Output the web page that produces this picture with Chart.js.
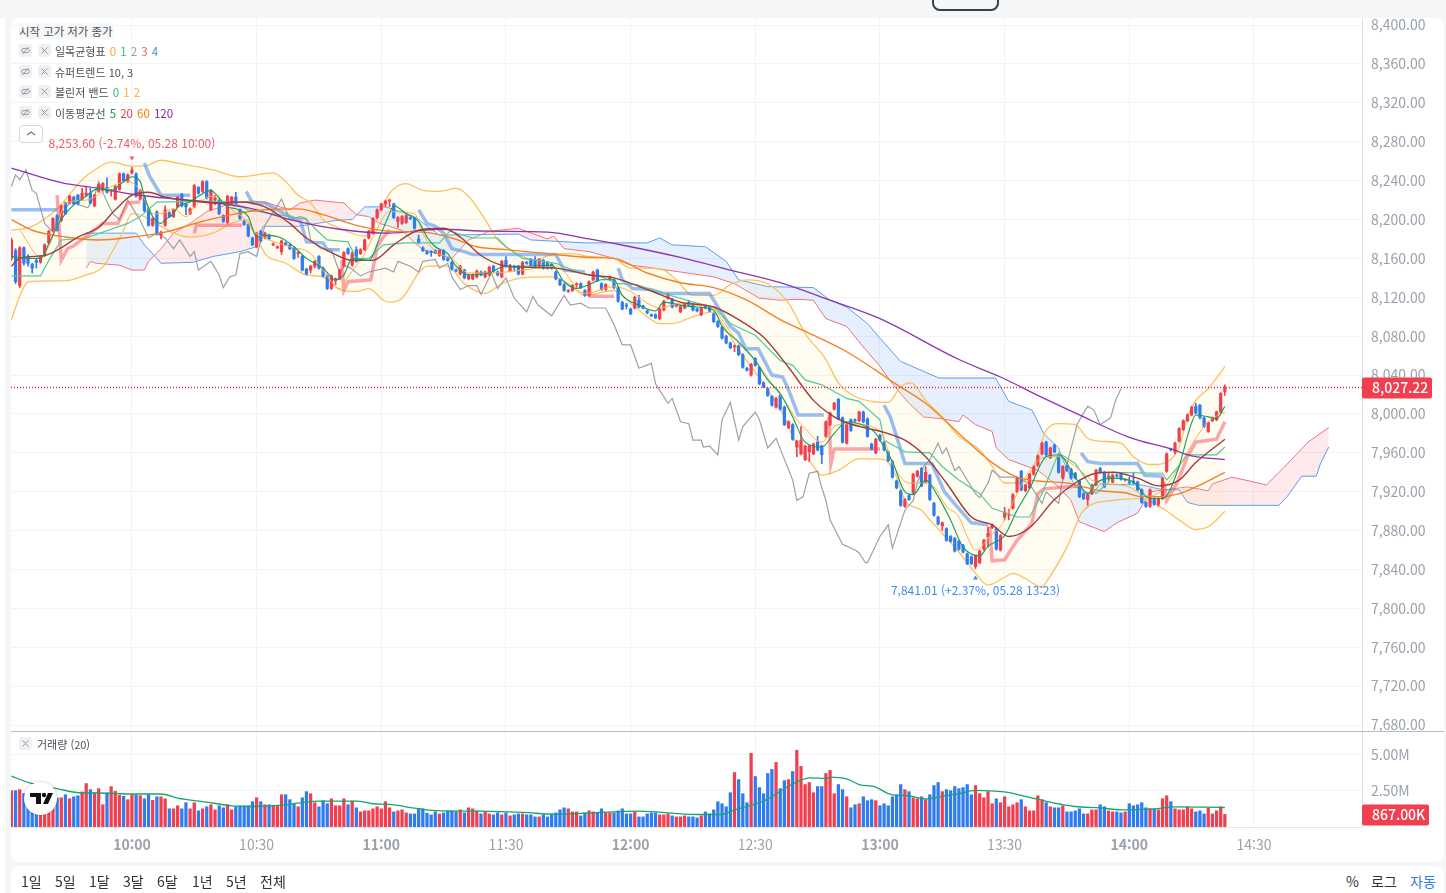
<!DOCTYPE html>
<html lang="ko">
<head>
<meta charset="utf-8">
<title>차트</title>
<script src="https://cdn.jsdelivr.net/npm/chart.js@4/dist/chart.umd.min.js"></script>
<style>
  html, body { margin: 0; padding: 0; background: #f5f6f8; }
  body { position: relative; width: 1446px; height: 893px; overflow: hidden; font-family: "Noto Sans CJK KR", "Noto Sans", sans-serif; color: #3a3f47; }
  .leftstrip { position: absolute; left: 0; top: 18px; width: 5px; height: 875px; background: #fff; }
  .card { position: absolute; left: 11px; top: 18px; width: 1433px; height: 844px; background: #fff; border-radius: 8px; }
  .bottom { position: absolute; left: 11px; top: 866px; width: 1433px; height: 27px; background: #fff; border-radius: 8px 8px 0 0; }
  .topbtn { position: absolute; left: 932px; top: -8px; width: 63px; height: 15px; border: 2px solid #3a3f47; border-radius: 8px; background: #f5f6f8; }
  canvas { position: absolute; }
  .row { position: absolute; left: 19px; font-size: 11px; line-height: 16px; white-space: nowrap; color: #4a4f57; }
  .row .name { position: absolute; left: 36px; top: 0; }
  .row b { font-weight: 400; margin-left: 1px; font-size: 11.5px; }
  .chip { position: absolute; top: 1px; width: 13px; height: 13px; background: #eef0f3; border-radius: 3px; }
  .chip svg { position: absolute; left: 2px; top: 2px; }
  .up { position: absolute; left: 19px; top: 125px; width: 22px; height: 16px; border: 1px solid #d3d6db; border-radius: 4px; background: #fff; }
  .up svg { position: absolute; left: 6px; top: 4px; }
  .logo { position: absolute; left: 24px; top: 782px; width: 33px; height: 33px; border-radius: 50%; background: #fff; box-shadow: 0 0 3px rgba(0,0,0,.25); }
  .range span { position: absolute; top: 871px; font-size: 14px; line-height: 20px; color: #2f343b; white-space: nowrap; }
</style>
</head>
<body>
<svg width="0" height="0" style="position:absolute">
  <symbol id="eye" viewBox="0 0 9 9"><ellipse cx="4.5" cy="4.5" rx="4" ry="2.2" fill="none" stroke="#9298a1" stroke-width="1"/><path d="M1.5 8 L7.5 1" stroke="#9298a1" stroke-width="1"/></symbol>
  <symbol id="cross" viewBox="0 0 9 9"><path d="M1.5 1.5 L7.5 7.5 M7.5 1.5 L1.5 7.5" stroke="#9298a1" stroke-width="1"/></symbol>
</svg>
<div class="topbtn"></div>
<div class="leftstrip"></div>
<div class="card"></div>
<div class="bottom"></div>
<canvas id="priceChart" width="1433" height="713" style="left:11px;top:18px"></canvas>
<canvas id="volumeChart" width="1433" height="130" style="left:11px;top:732px"></canvas>
<div style="position:absolute;left:11px;top:731px;width:1433px;height:1px;background:#b9bcc2"></div>

<div class="row" style="top:23px;font-size:11.4px;background:#f6f7f8;padding:0 2px 0 0">시작 고가 저가 종가</div>
<div class="row" style="top:43px"><i class="chip" style="left:0"><svg width="9" height="9"><use href="#eye"/></svg></i><i class="chip" style="left:19px"><svg width="9" height="9"><use href="#cross"/></svg></i><span class="name">일목균형표 <b style="color:#f9a825">0</b> <b style="color:#2ec27e">1</b> <b style="color:#9aa0a8">2</b> <b style="color:#f0566a">3</b> <b style="color:#4a90e2">4</b></span></div>
<div class="row" style="top:64px"><i class="chip" style="left:0"><svg width="9" height="9"><use href="#eye"/></svg></i><i class="chip" style="left:19px"><svg width="9" height="9"><use href="#cross"/></svg></i><span class="name">슈퍼트렌드 10, 3</span></div>
<div class="row" style="top:84px"><i class="chip" style="left:0"><svg width="9" height="9"><use href="#eye"/></svg></i><i class="chip" style="left:19px"><svg width="9" height="9"><use href="#cross"/></svg></i><span class="name">볼린저 밴드 <b style="color:#2ec27e">0</b> <b style="color:#f9b233">1</b> <b style="color:#f9b233">2</b></span></div>
<div class="row" style="top:105px"><i class="chip" style="left:0"><svg width="9" height="9"><use href="#eye"/></svg></i><i class="chip" style="left:19px"><svg width="9" height="9"><use href="#cross"/></svg></i><span class="name">이동평균선 <b style="color:#0a9a5a">5</b> <b style="color:#e5394f">20</b> <b style="color:#f57c00">60</b> <b style="color:#8e24aa">120</b></span></div>
<div class="up"><svg width="10" height="7"><path d="M1 5 L5 2 L9 5" fill="none" stroke="#777" stroke-width="1.2"/></svg></div>
<div class="row" style="top:736px"><i class="chip" style="left:0"><svg width="9" height="9"><use href="#cross"/></svg></i><span class="name" style="left:18px">거래량 (20)</span></div>
<div class="logo"><svg width="33" height="33" viewBox="0 0 33 33"><path d="M6 11h11v11h-5v-7H6z" fill="#111"/><circle cx="20" cy="13" r="2.2" fill="#111"/><path d="M24 11h5l-5 11h-5z" fill="#111"/></svg></div>
<div class="range">
  <span style="left:21px">1일</span><span style="left:55px">5일</span><span style="left:89px">1달</span><span style="left:123px">3달</span><span style="left:157px">6달</span><span style="left:192px">1년</span><span style="left:226px">5년</span><span style="left:260px">전체</span>
  <span style="left:1346px">%</span><span style="left:1371px">로그</span><span style="left:1410px;color:#2b7de9">자동</span>
</div>

<script>
// minutes from 10:00 for the first candle (09:31)
const firstMinute = -29;

const opens = [
  8160,8168,8132,8171,8162,8154,8158,8156,8163,8176,
  8189,8204,8199,8217,8217,8223,8225,8221,8225,8227,
  8214,8229,8230,8233,8229,8221,8231,8247,8239,8248,
  8247,8221,8223,8211,8194,8208,8184,8194,8207,8203,
  8213,8226,8216,8206,8213,8233,8229,8239,8210,8220,
  8220,8204,8197,8216,8223,8210,8198,8195,8181,8172,
  8188,8181,8184,8174,8171,8167,8176,8174,8171,8165,
  8162,8149,8148,8152,8162,8150,8142,8129,8137,8139,
  8152,8170,8153,8169,8165,8169,8181,8186,8202,8210,
  8216,8219,8216,8198,8196,8197,8202,8201,8180,8171,
  8167,8167,8168,8163,8168,8160,8156,8148,8144,8148,
  8139,8139,8141,8146,8141,8143,8152,8146,8141,8158,
  8147,8152,8152,8144,8156,8159,8158,8152,8158,8156,
  8154,8146,8138,8133,8126,8127,8133,8134,8127,8122,
  8138,8148,8134,8128,8139,8138,8130,8115,8112,8108,
  8109,8117,8111,8106,8102,8102,8098,8107,8119,8118,
  8111,8105,8109,8115,8113,8108,8102,8111,8110,8103,
  8095,8089,8080,8073,8069,8070,8061,8047,8040,8057,
  8048,8032,8026,8018,8007,8019,8007,7986,7989,7966,
  7959,7953,7961,7959,7971,7967,7977,7989,8005,8015,
  7996,7970,7994,7994,7993,8002,7995,7969,7960,7978,
  7971,7961,7951,7931,7921,7905,7916,7919,7936,7944,
  7930,7937,7908,7894,7885,7882,7874,7872,7869,7865,
  7856,7853,7843,7847,7861,7874,7883,7882,7860,7894,
  7896,7903,7920,7941,7921,7924,7938,7947,7959,7971,
  7955,7968,7956,7934,7946,7943,7939,7931,7918,7912,
  7918,7927,7944,7940,7935,7930,7937,7938,7932,7930,
  7931,7930,7922,7909,7905,7913,7907,7913,7941,7964,
  7961,7972,7984,7993,7999,8008,8009,7996,7982,7993,
  7994,8002,8023
];
const closes = [
  8179,8136,8171,8155,8155,8150,8156,8162,8174,8188,
  8201,8189,8214,8206,8224,8216,8216,8227,8227,8217,
  8225,8236,8237,8228,8230,8234,8247,8240,8246,8251,
  8224,8230,8209,8194,8201,8185,8187,8210,8203,8210,
  8223,8214,8213,8211,8235,8227,8239,8222,8230,8222,
  8206,8198,8224,8223,8216,8201,8195,8183,8174,8186,
  8178,8186,8180,8175,8172,8178,8174,8170,8160,8166,
  8148,8144,8152,8157,8150,8142,8129,8142,8139,8148,
  8166,8165,8165,8157,8169,8179,8188,8201,8210,8216,
  8219,8220,8202,8202,8203,8204,8201,8191,8176,8168,
  8165,8166,8166,8168,8159,8158,8149,8147,8152,8140,
  8143,8143,8147,8143,8146,8151,8147,8143,8157,8152,
  8153,8151,8144,8156,8155,8153,8152,8159,8150,8150,
  8150,8139,8133,8127,8127,8132,8134,8130,8122,8136,
  8146,8137,8128,8133,8140,8130,8116,8108,8111,8103,
  8120,8110,8109,8104,8101,8099,8108,8116,8123,8110,
  8111,8111,8113,8112,8107,8106,8109,8109,8106,8095,
  8090,8078,8073,8068,8070,8061,8048,8045,8051,8050,
  8031,8028,8019,8009,8016,8005,7989,7992,7974,7972,
  7973,7967,7967,7969,7963,7958,7992,8001,8011,7995,
  7971,7989,7983,7993,8002,7992,7977,7964,7974,7973,
  7963,7952,7935,7924,7906,7912,7912,7938,7941,7926,
  7940,7912,7896,7887,7888,7870,7869,7859,7861,7858,
  7846,7846,7854,7859,7870,7877,7886,7861,7875,7899,
  7897,7917,7934,7922,7927,7938,7946,7957,7970,7958,
  7965,7961,7940,7946,7942,7934,7934,7915,7913,7917,
  7927,7942,7940,7925,7936,7937,7936,7933,7932,7929,
  7929,7922,7909,7905,7922,7907,7913,7934,7959,7963,
  7970,7985,7993,7999,8007,8001,7996,7987,7991,7996,
  8002,8021,8027.22
];
const highs = [
  8181,8170,8172,8172,8164,8155,8159,8163,8175,8189,
  8202,8205,8215,8218,8225,8224,8226,8232,8233,8232,
  8226,8237,8238,8243,8231,8235,8248,8248,8247,8253.6,
  8248,8231,8224,8212,8202,8209,8188,8214,8208,8211,
  8224,8227,8217,8212,8236,8234,8240,8240,8231,8225,
  8221,8205,8225,8224,8228,8211,8199,8196,8182,8187,
  8189,8187,8185,8176,8173,8179,8177,8175,8172,8167,
  8163,8150,8153,8158,8163,8151,8143,8143,8140,8149,
  8167,8171,8167,8172,8170,8180,8189,8202,8211,8217,
  8220,8221,8217,8203,8204,8205,8203,8202,8184,8172,
  8168,8168,8169,8169,8169,8161,8157,8149,8153,8149,
  8144,8144,8148,8147,8147,8152,8153,8147,8158,8162,
  8154,8153,8153,8157,8157,8160,8162,8160,8159,8157,
  8155,8147,8139,8134,8128,8133,8135,8135,8128,8137,
  8147,8149,8135,8134,8142,8139,8131,8116,8114,8109,
  8121,8122,8112,8107,8103,8103,8109,8117,8124,8119,
  8112,8112,8114,8117,8114,8109,8110,8112,8111,8104,
  8096,8090,8081,8074,8071,8071,8062,8048,8052,8058,
  8049,8033,8027,8019,8017,8020,8008,7993,7990,7973,
  7987,7968,7968,7970,7977,7968,7993,8002,8012,8016,
  7997,7990,7995,7995,8003,8003,7996,7970,7975,7979,
  7972,7962,7952,7932,7922,7913,7917,7939,7942,7945,
  7946,7938,7909,7895,7889,7883,7875,7873,7870,7866,
  7857,7854,7855,7860,7871,7884,7887,7883,7876,7904,
  7902,7918,7935,7942,7928,7939,7947,7958,7971,7972,
  7966,7969,7957,7947,7947,7944,7940,7932,7919,7918,
  7928,7943,7945,7941,7939,7938,7938,7939,7933,7935,
  7940,7931,7923,7910,7923,7914,7914,7935,7960,7965,
  7971,7986,7994,8000,8008,8011,8010,7997,7992,7997,
  8003,8022,8030
];
const lows = [
  8158,8134,8130,8153,8152,8145,8150,8155,8162,8175,
  8188,8188,8198,8205,8216,8215,8215,8220,8224,8216,
  8213,8228,8229,8227,8224,8220,8230,8239,8238,8247,
  8223,8220,8208,8193,8193,8184,8180,8193,8202,8202,
  8212,8213,8205,8205,8212,8226,8228,8221,8209,8215,
  8205,8197,8196,8215,8215,8200,8194,8182,8173,8171,
  8177,8180,8179,8173,8170,8164,8173,8169,8159,8161,
  8147,8143,8145,8150,8149,8141,8128,8128,8133,8138,
  8151,8164,8152,8156,8164,8168,8180,8185,8201,8209,
  8213,8213,8201,8192,8195,8196,8200,8190,8175,8167,
  8164,8162,8165,8162,8158,8157,8148,8146,8143,8139,
  8138,8138,8140,8142,8140,8142,8146,8142,8140,8151,
  8146,8147,8143,8143,8154,8152,8151,8151,8149,8149,
  8149,8138,8132,8126,8125,8126,8130,8129,8121,8121,
  8137,8136,8127,8127,8138,8129,8115,8107,8108,8102,
  8108,8109,8108,8103,8100,8098,8097,8106,8118,8109,
  8110,8104,8108,8111,8106,8105,8101,8108,8105,8094,
  8089,8077,8072,8067,8064,8060,8047,8044,8039,8049,
  8030,8027,8018,8008,8006,8004,7988,7985,7973,7956,
  7958,7952,7951,7958,7962,7949,7976,7988,8004,7994,
  7970,7969,7982,7992,7992,7991,7976,7963,7959,7972,
  7962,7951,7934,7923,7905,7904,7911,7918,7935,7925,
  7929,7911,7895,7886,7880,7869,7868,7858,7860,7857,
  7845,7845,7841.01,7846,7860,7863,7882,7860,7859,7891,
  7891,7902,7919,7921,7920,7923,7937,7946,7958,7957,
  7954,7960,7939,7933,7941,7933,7933,7914,7912,7906,
  7917,7926,7939,7924,7931,7929,7935,7932,7931,7928,
  7928,7921,7908,7904,7904,7906,7905,7912,7940,7962,
  7959,7971,7983,7992,7998,8000,7995,7986,7981,7992,
  7993,8001,8019
];
// volume in thousands
const volumes = [
  2500,2500,2570,2300,2200,2100,2000,2100,2200,2100,
  2300,1990,2010,2220,1940,2080,2150,2410,2990,2570,
  2340,2640,1530,2340,2780,2450,2180,2110,1880,2220,
  2220,2150,1940,2220,1830,2080,2080,1940,1250,1250,
  1460,1250,1670,1250,1670,1110,1250,1390,1530,1180,
  1460,1320,1530,1180,1390,1460,1460,1460,1740,2010,
  1740,1530,1530,1460,1460,2220,2220,1880,1600,1390,
  2010,2430,2290,1670,1390,1810,1600,1940,1460,1460,
  1940,1530,1780,1320,1040,1110,1110,1250,1390,1250,
  1740,1320,1040,1110,1180,970,900,900,1250,1250,
  950,835,1040,900,970,1110,1110,1040,1180,970,
  1320,1250,1110,900,1040,900,835,970,835,970,
  765,835,900,900,835,835,695,695,835,695,
  900,970,1180,1320,1250,1040,1040,765,970,1110,
  1040,970,1250,970,970,970,1110,1250,900,900,
  1040,695,695,900,970,970,835,835,900,765,
  695,695,765,695,695,625,765,1040,900,1180,
  1740,1600,1390,2360,3750,3260,2290,1670,5070,3470,
  2710,2290,3680,3960,4440,2640,3190,3260,3820,5280,
  4170,2920,3060,2360,2780,2780,3680,3890,2290,2920,
  2570,2080,1320,1530,1600,2080,1810,1880,1810,1460,
  1600,1460,2080,2220,2920,2570,2430,2010,1940,2080,
  1880,2220,2850,3060,2430,2570,2500,2780,2640,2710,
  2920,2220,2850,2290,2010,2430,1600,1940,1670,2080,
  1390,1530,1670,1880,1390,1110,1110,2150,1880,1670,
  1390,1320,1320,1460,1040,1040,1110,1250,900,900,
  1180,1180,1530,1390,1110,1040,1040,970,1040,1600,
  1460,1530,1670,1320,1250,1250,1180,1940,2150,1740,
  1250,1180,1180,1390,1250,1040,1110,900,1320,900,
  1110,1390,867
];

// indicator lines: [minute from 10:00, value]
const ma120 = [[-29,8253],[-17,8238],[-8,8232],[0,8226],[28,8212],[38,8200],[50,8190],[62,8186],[74,8190],[86,8188],[100,8187],[110,8180],[120,8172],[132,8161],[144,8148],[156,8135],[168,8117],[180,8098],[199,8056],[209,8038],[219,8017],[228,7999],[240,7976],[250,7964],[255,7957],[263,7953]];
const ma60 = [[-29,8200],[-24,8189],[-16,8182],[-8,8179],[0,8182],[8,8187],[16,8197],[24,8205],[32,8210],[40,8211],[46,8205],[54,8194],[62,8188],[70,8187],[77,8181],[83,8172],[90,8169],[102,8164],[110,8161],[116,8160],[124,8145],[132,8135],[140,8130],[148,8117],[156,8097],[164,8081],[172,8064],[180,8042],[183,8033],[191,8011],[199,7980],[207,7950],[213,7935],[218,7931],[225,7929],[233,7921],[239,7919],[243,7915],[248,7915],[252,7918],[256,7925],[263,7940]];
const ma20 = [[-29,8152],[-27,8160],[-21,8163],[-17,8171],[-13,8182],[-8,8192],[-4,8210],[0,8225],[4,8228],[8,8223],[13,8220],[20,8217],[26,8218],[32,8213],[38,8196],[42,8181],[48,8166],[53,8158],[58,8158],[63,8174],[69,8189],[75,8191],[79,8182],[84,8163],[89,8153],[94,8151],[102,8150],[110,8143],[116,8140],[124,8128],[132,8115],[140,8110],[146,8097],[152,8079],[158,8048],[164,8014],[169,7997],[172,7991],[181,7981],[186,7973],[191,7956],[196,7929],[202,7894],[207,7886],[211,7874],[216,7883],[222,7912],[227,7929],[232,7939],[236,7940],[242,7934],[247,7926],[252,7932],[256,7950],[263,7974]];
const ma5 = [[-29,8162],[-25,8160],[-22,8160],[-20,8175],[-18,8193],[-16,8206],[-14,8215],[-11,8224],[-8,8232],[-5,8230],[-2,8239],[0,8244],[2,8239],[3,8224],[5,8203],[7,8196],[8,8200],[10,8206],[11,8213],[14,8218],[16,8224],[19,8230],[20,8227],[23,8213],[25,8211],[28,8203],[30,8182],[32,8184],[36,8181],[39,8172],[42,8160],[46,8150],[49,8138],[51,8143],[53,8160],[57,8158],[60,8186],[62,8206],[63,8214],[66,8206],[69,8198],[71,8182],[73,8172],[76,8165],[78,8152],[81,8143],[86,8145],[89,8151],[94,8152],[101,8153],[104,8136],[107,8129],[110,8133],[113,8138],[116,8138],[118,8122],[122,8112],[126,8106],[128,8115],[132,8112],[136,8110],[140,8107],[142,8090],[146,8074],[150,8055],[153,8035],[156,8021],[159,7997],[162,7971],[166,7966],[169,7980],[172,7992],[175,7990],[179,7980],[180,7973],[183,7951],[186,7920],[188,7917],[191,7932],[194,7915],[197,7891],[200,7863],[204,7854],[206,7864],[210,7875],[213,7901],[216,7923],[220,7956],[223,7958],[227,7935],[230,7918],[232,7929],[236,7934],[241,7930],[245,7913],[248,7913],[252,7946],[254,7977],[256,7999],[259,7997],[261,7995],[263,8008]];
const ichiConversion = [[-27,8189],[-22,8162],[-18,8193],[-16,8217],[-11,8220],[-5,8234],[-1,8239],[2,8230],[5,8206],[7,8206],[10,8211],[13,8203],[15,8213],[19.5,8224],[24,8210],[27.5,8199],[29,8189],[32,8181],[38,8172],[43,8165],[46,8148],[50,8129],[52,8141],[56,8165],[58,8182],[62,8208],[68,8206],[70,8186],[73,8167],[77,8160],[81,8145],[86,8145],[94,8148],[102,8152],[109,8124],[116,8131],[120,8126],[124,8114],[127,8109],[132,8114],[136,8112],[140,8109],[142,8097],[146,8073],[150,8055],[154,8031],[157,8014],[160,7994],[162,7985],[166,7971],[169,7987],[172,7990],[180,7983],[183,7949],[187,7929],[190,7929],[193,7925],[196,7905],[199,7894],[201,7874],[203,7860],[207,7877],[209,7884],[213,7918],[216,7942],[220,7956],[223,7956],[227,7946],[231,7932],[233,7929],[240,7925],[244,7915],[248,7922],[252,7946],[256,7975],[259,7992],[263,8002]];
const ichiBase = [[-29,8142],[-22,8142],[-20,8158],[-17,8179],[-11,8181],[-1,8196],[2,8203],[6,8218],[16,8219],[24,8218],[28,8210],[38,8203],[42,8200],[44.5,8189],[47,8179],[52,8177],[54,8160],[57,8160],[60.5,8174],[66,8176],[74,8176],[76.5,8188],[82,8181],[88,8181],[90,8172],[94,8160],[102,8155],[108,8145],[113,8141],[117,8134],[121.5,8133],[126.3,8126],[136,8114],[140,8110],[144,8093],[150,8081],[156,8055],[159,8050],[162,8035],[166,8030],[172,8016],[175,8013],[180,7994],[181,7973],[186,7961],[192,7960],[195,7946],[199,7932],[204,7918],[207,7903],[213,7894],[216,7894],[219,7918],[223,7960],[227,7949],[232,7918],[235,7930],[236,7940],[248,7939],[249,7932],[252,7947],[254,7958],[261,7958],[263,7966]];
const ichiLagging = [[-29,8234],[-28,8246],[-27,8241],[-25.5,8251],[-24,8230],[-23,8227],[-21,8196],[-19,8187],[-18,8199],[-14.5,8220],[-12.6,8215],[-10.6,8212],[-9,8224],[-8,8239],[-6.6,8224],[-4.6,8206],[-3,8200],[-1,8220],[0,8213],[2,8199],[4,8181],[6,8186],[8,8181],[10,8170],[11.5,8179],[14,8162],[15,8167],[16,8148],[19,8157],[21,8143],[22,8130],[23.5,8141],[25,8143],[26,8165],[28,8167],[30,8162],[32,8194],[36,8221],[38,8200],[40.5,8203],[42,8201],[43,8179],[45.5,8170],[48,8169],[50,8145],[51,8153],[52.6,8150],[55,8142],[57,8146],[61,8150],[63,8146],[64,8157],[67,8152],[69,8146],[70,8157],[73,8159],[74,8150],[76,8155],[77,8141],[79,8128],[81,8132],[83,8132],[84,8123],[86.5,8145],[88,8129],[90,8140],[92,8119],[95,8105],[96.5,8121],[97.7,8112],[101,8101],[104,8122],[105.5,8112],[108,8114],[110,8109],[114,8109],[116,8092],[118,8071],[120,8071],[122,8047],[125,8052],[126,8031],[129,8011],[130,8016],[132,7992],[134,7990],[135,7973],[137,7973],[137.5,7966],[139,7967],[141,7958],[142,7994],[144,8012],[146,7973],[147,7987],[150,8002],[151,7994],[153,7965],[155,7975],[159,7932],[160,7911],[161.5,7915],[163,7939],[165,7941],[165.8,7927],[167,7911],[168,7891],[171,7866],[174,7860],[175,7857],[176.5,7847],[177,7847],[180,7874],[182,7886],[183,7862],[186,7901],[188,7911],[189,7929],[190.5,7946],[192,7953],[194,7970],[195,7959],[196,7965],[198,7942],[199,7946],[203,7918],[204,7914],[206,7929],[207,7942],[209,7935],[213,7935],[216,7928],[219,7908],[220,7920],[223,7908],[223.6,7925],[227.5,7990],[230,8008],[231.5,8004],[233,7989],[235.5,7996],[236.7,8014],[238,8026]];
const spanA = [[-11,8150],[-10,8157],[-8.6,8155],[-3,8153],[0,8148],[3,8148],[4,8157],[7,8170],[10,8186],[14,8196],[18,8208],[24,8217],[29,8219],[32,8218],[38,8210],[40.5,8217],[44,8220],[51,8217],[54,8205],[57,8203],[59.6,8196],[62,8193],[65,8189],[68,8176],[70,8169],[74,8164],[77,8160],[81,8179],[86,8188],[93,8191],[100,8180],[101.5,8183],[104,8170],[110,8167],[116,8160],[120,8153],[124,8151],[132,8146],[140,8141],[145,8134],[151,8119],[156,8117],[160,8118],[164,8117],[167,8098],[172,8090],[176,8069],[180,8049],[183,8031],[187,8011],[190.5,7997],[195,7995],[199,7992],[200,7999],[203,7989],[207,7982],[208,7965],[211,7953],[218,7942],[223,7925],[226,7911],[228,7889],[234,7879],[237,7888],[242,7898],[245,7920],[254,7925],[259,7921],[260,7928],[264.7,7935],[269,7931],[273,7927],[277,7944],[283,7971],[288,7986]];
const spanB = [[-11,8186],[1,8186],[3,8174],[6,8160],[7,8155],[14.7,8156],[19.5,8162],[26,8167],[30,8172],[31.5,8193],[40,8193],[49,8199],[53,8200],[56,8213],[61,8213],[65.5,8207],[68,8203],[74,8184],[93,8185],[96,8179],[109,8176],[124,8176],[127,8181],[130,8174],[138,8172],[143,8157],[146,8138],[153,8131],[164,8130],[168,8117],[172,8110],[177,8093],[180,8078],[185,8054],[194.2,8037],[207.8,8037],[211,8013],[216.6,8004],[219.4,7980],[223,7965],[224,7953],[227,7925],[231,7917],[233,7928],[243,7927],[248,7922],[252,7922],[254,7909],[256.7,7906],[276,7906],[278,7915],[281.5,7936],[285,7936],[286,7949],[288,7966]];
const bbUpper = [[-29,8189],[-24,8193],[-18,8211],[-12,8241],[-9,8251],[-5,8259],[0,8255],[3,8255],[7,8261],[11,8258],[19.5,8251],[26,8244],[34,8248],[37,8239],[40,8225],[43,8217],[46,8200],[50,8191],[56,8183],[60,8210],[62,8227],[66,8237],[70,8230],[74,8229],[78,8232],[81,8224],[85,8200],[88,8179],[90,8172],[94,8162],[97,8158],[101,8164],[106,8165],[110,8162],[116,8160],[120,8150],[124,8150],[128,8148],[131,8138],[135,8122],[140,8122],[144,8133],[148,8138],[153,8134],[158,8114],[162,8083],[167,8056],[170,8032],[174,8018],[182,8012],[185,8028],[187.5,8032],[191,8014],[195,7997],[199,7977],[204,7963],[207,7946],[210,7929],[214,7929],[217,7946],[220,7983],[223,7990],[227,7989],[230,7975],[233,7972],[238,7970],[241,7956],[245,7948],[248,7949],[252,7966],[254,7997],[256,8014],[259,8026],[261,8037],[263,8049]];
const bbLower = [[-29,8097],[-27,8121],[-25,8136],[-16,8137],[-11,8143],[-7,8151],[-5,8165],[-2,8189],[0,8206],[3,8203],[7,8193],[10,8186],[14,8182],[19.5,8186],[24,8196],[27.5,8200],[30,8182],[32,8165],[37,8155],[42,8143],[46,8141],[50,8128],[54,8126],[57,8129],[60.5,8117],[62,8115],[65,8119],[69,8145],[71,8152],[76,8152],[80,8134],[85,8124],[89,8134],[94,8140],[101,8141],[105,8134],[109,8122],[116,8127],[120,8114],[124,8100],[127,8093],[130,8093],[135,8100],[140,8105],[142,8093],[146,8066],[152,8031],[157,7997],[159,7977],[164,7946],[166,7937],[170,7942],[175,7954],[181,7953],[184,7935],[186,7911],[190,7901],[192,7891],[195,7877],[199,7858],[203,7836],[206,7824],[209.6,7831],[212,7836],[214,7833],[219,7822],[220,7827],[225,7863],[229,7901],[236,7911],[243,7913],[248,7903],[252,7891],[256,7881],[259,7884],[261,7891],[263,7900]];
// null breaks the line where the trend flips
const superDown = [[-29,8210],[-18,8210],[-18,null],[3,8258],[4.3,8244],[7,8225],[14,8225],[14.5,null],[27.5,8229],[29,8217],[32,8217],[35,8210],[38,8203],[40.6,8198],[42,8177],[46,8176],[47,8169],[50,8169],[50.2,null],[69,8210],[71,8196],[73,8193],[75,8186],[77,8170],[80,8167],[82,8164],[102,8164],[104,8148],[109,8146],[109.5,null],[117,8150],[118,8138],[120.5,8129],[124.7,8128],[128,8124],[139,8124],[141,8110],[144,8090],[146,8083],[147.7,8067],[150.7,8067],[154,8040],[156.6,8038],[158,8025],[160.3,7999],[166.5,7999],[167,null],[181,8009],[182.5,7997],[184.5,7970],[186,7949],[192.5,7949],[195.5,7920],[198.5,7905],[202,7888],[206,7886],[206.5,null],[228.4,7960],[230,7951],[233,7949],[242,7949],[243.7,7937],[248,7936]];
const superUp = [[-18,8225],[-17,8158],[-15.5,8170],[-14,8173],[-10,8186],[-7,8196],[-3.4,8196],[-1,8217],[2,8218],[2.5,null],[15,8186],[15.5,8194],[26.5,8194],[27,null],[50.5,8158],[51,8127],[52,8136],[57.5,8138],[59,8172],[60.5,8182],[62,8189],[62.5,null],[110,8136],[110.3,8121],[116,8121],[116.2,null],[167.7,7997],[168.2,7949],[169,7964],[180,7964],[180.1,null],[206.4,7884],[207,7849],[210,7850],[213,7870],[216.5,7887],[218,7918],[219.4,7923],[225,7925],[227.6,7926],[228,null],[248.4,7930],[249,7911],[251.5,7929],[254,7956],[256,7971],[261,7974],[263,7992]];
const volumeMa = [[-29,3500],[-24.6,3030],[-18,2640],[-12,2340],[-8,2340],[0,2270],[7,2270],[11,1990],[18,1710],[24,1460],[29,1410],[36,1500],[40,1640],[45,1780],[54,1780],[58,1600],[62,1550],[68,1300],[73,1130],[84,1090],[94,1000],[102,880],[117,1060],[122,1090],[136,860],[142,860],[145,1180],[148,1410],[153,1920],[158,2800],[161,3220],[163,3380],[167,3330],[168,3430],[172,3310],[175,2920],[179,2750],[182,2290],[184,2180],[186,2180],[191,1940],[195,2110],[199,2290],[203,2520],[210,2410],[215,2110],[222,1640],[227,1410],[233,1320],[238,1180],[246,1250],[251,1390],[263,1340]];

const priceTicks = [8400,8360,8320,8280,8240,8200,8160,8120,8080,8040,8000,7960,7920,7880,7840,7800,7760,7720,7680];
const volumeTicks = [2500,5000];
const volumeTickLabels = ['2.50M','5.00M'];
const timeTicks = [0,30,60,90,120,150,180,210,240,270];
const timeTickLabels = ['10:00','10:30','11:00','11:30','12:00','12:30','13:00','13:30','14:00','14:30'];

const lastPrice = 8027.22, lastPriceLabel = '8,027.22', lastVolume = 867, lastVolumeLabel = '867.00K';
const highMark = { m: 0, price: 8253.6, text: '8,253.60 (-2.74%, 05.28 10:00)' };
const lowMark = { m: 203, price: 7841.01, text: '7,841.01 (+2.37%, 05.28 13:23)' };

const xMin = -29.1, xMax = 296;
const RED = '#f23f50', BLUE = '#2f7bf0', FONT = '"Noto Sans CJK KR", "Noto Sans", sans-serif';
const gridColor = '#f2f3f5', axisText = '#9aa1ac';
const smooth = { cubicInterpolationMode: 'monotone' };

const minutes = opens.map((_, i) => firstMinute + i);
const candleColors = opens.map((o, i) => closes[i] >= o ? RED : BLUE);
const pts = arr => arr.map(([x, y]) => ({ x, y }));

function lineSet(data, color, width, order, extra) {
  return Object.assign({ type: 'line', data: pts(data), borderColor: color, borderWidth: width, pointRadius: 0, tension: 0, fill: false, order: order, spanGaps: false }, extra || {});
}

const priceMarks = {
  id: 'priceMarks',
  afterDatasetsDraw(chart) {
    const { ctx, scales: { x, y } } = chart;
    ctx.save();
    ctx.font = '12px ' + FONT;
    ctx.textAlign = 'center';
    ctx.textBaseline = 'middle';
    // high
    let px = x.getPixelForValue(highMark.m), py = y.getPixelForValue(highMark.price);
    ctx.fillStyle = '#f2596a';
    ctx.fillText(highMark.text, px, py - 24);
    ctx.beginPath(); ctx.moveTo(px, py - 7); ctx.lineTo(px - 2.5, py - 11); ctx.lineTo(px + 2.5, py - 11); ctx.fill();
    // low
    px = x.getPixelForValue(lowMark.m); py = y.getPixelForValue(lowMark.price);
    ctx.fillStyle = '#3f8bf0';
    ctx.fillText(lowMark.text, px, py + 22);
    ctx.beginPath(); ctx.moveTo(px, py + 7); ctx.lineTo(px - 2.5, py + 11); ctx.lineTo(px + 2.5, py + 11); ctx.fill();
    // last price tag
    py = y.getPixelForValue(lastPrice);
    ctx.fillStyle = RED;
    ctx.beginPath(); ctx.roundRect(chart.chartArea.right, py - 10, 70, 21, 2); ctx.fill();
    ctx.fillStyle = '#fff';
    ctx.font = '500 14px ' + FONT;
    ctx.textAlign = 'left';
    ctx.fillText(lastPriceLabel, chart.chartArea.right + 10, py + 0.5);
    ctx.restore();
  }
};

const volumeTag = {
  id: 'volumeTag',
  afterDatasetsDraw(chart) {
    const { ctx, scales: { y } } = chart;
    const py = y.getPixelForValue(lastVolume);
    ctx.save();
    ctx.fillStyle = RED;
    ctx.beginPath(); ctx.roundRect(chart.chartArea.right, py - 10, 67, 21, 2); ctx.fill();
    ctx.fillStyle = '#fff';
    ctx.font = '500 14px ' + FONT;
    ctx.textBaseline = 'middle';
    ctx.fillText(lastVolumeLabel, chart.chartArea.right + 10, py + 0.5);
    ctx.restore();
  }
};

const priceChart = new Chart(document.getElementById('priceChart'), {
  type: 'bar',
  data: {
    datasets: [
      lineSet(spanA, '#f0707f', 1, 30, { fill: { target: '+1', above: 'rgba(242,63,80,0.11)', below: 'rgba(47,123,240,0.12)' } }),
      lineSet(spanB, '#5b9cf0', 1, 29),
      lineSet(bbUpper, '#fbc15e', 1.3, 28, Object.assign({ fill: { target: '+1', above: 'rgba(255,225,130,0.1)', below: 'rgba(255,225,130,0.1)' } }, smooth)),
      lineSet(bbLower, '#fbc15e', 1.3, 27, smooth),
      lineSet(ichiLagging, '#9ba1a9', 1.2, 26),
      lineSet(superDown, 'rgba(88,150,238,0.62)', 3.5, 25),
      lineSet(superUp, 'rgba(245,85,100,0.52)', 3.5, 24),
      { type: 'bar', data: minutes.map((m, i) => ({ x: m, y: [lows[i], highs[i]] })), backgroundColor: candleColors, barThickness: 1, grouped: false, order: 12 },
      { type: 'bar', data: minutes.map((m, i) => ({ x: m, y: [Math.min(opens[i], closes[i]), Math.max(opens[i], closes[i])] })), backgroundColor: candleColors, barThickness: 2.6, minBarLength: 1, grouped: false, order: 11 },
      lineSet(ichiBase, '#4fcb9a', 1.2, 9),
      lineSet(ichiConversion, '#fbb040', 1, 8, smooth),
      lineSet(ma120, '#8e35ad', 1.3, 4, smooth),
      lineSet(ma60, '#f5821f', 1.4, 3, smooth),
      lineSet(ma20, '#a33c3c', 1.4, 2, smooth),
      lineSet(ma5, '#0f9d5f', 1.1, 1, smooth),
      lineSet([[xMin, lastPrice], [xMax, lastPrice]], '#f0203a', 1.4, 0, { borderDash: [1, 2] })
    ]
  },
  options: {
    responsive: false,
    animation: false,
    layout: { padding: 0 },
    plugins: { legend: { display: false }, tooltip: { enabled: false } },
    scales: {
      x: {
        type: 'linear', min: xMin, max: xMax, offset: false,
        grid: { color: gridColor, drawTicks: false, offset: false },
        border: { display: false },
        ticks: { display: false },
        afterBuildTicks: s => { s.ticks = timeTicks.map(v => ({ value: v })); },
        afterFit: s => { s.height = 0; s.paddingLeft = 0; s.paddingRight = 0; }
      },
      y: {
        position: 'right', min: 7673.9, max: 8407.3,
        grid: { color: gridColor, drawTicks: false },
        border: { color: '#dfe1e6' },
        afterBuildTicks: s => { s.ticks = priceTicks.map(v => ({ value: v })); },
        afterFit: s => { s.width = 82; s.paddingTop = 0; s.paddingBottom = 0; },
        ticks: {
          color: axisText, padding: 9, font: { family: FONT, size: 14 },
          callback: v => v.toLocaleString('en-US', { minimumFractionDigits: 2, maximumFractionDigits: 2 })
        }
      }
    }
  },
  plugins: [priceMarks]
});

const volumeChart = new Chart(document.getElementById('volumeChart'), {
  type: 'bar',
  data: {
    datasets: [
      lineSet(volumeMa, '#16a56b', 1.3, 1, smooth),
      { type: 'bar', data: minutes.map((m, i) => ({ x: m, y: volumes[i] })), backgroundColor: candleColors, barThickness: 2.6, grouped: false, order: 2 }
    ]
  },
  options: {
    responsive: false,
    animation: false,
    layout: { padding: 0 },
    plugins: { legend: { display: false }, tooltip: { enabled: false } },
    scales: {
      x: {
        type: 'linear', min: xMin, max: xMax, offset: false,
        grid: { color: gridColor, drawTicks: false, offset: false },
        border: { color: '#e3e5e9' },
        afterBuildTicks: s => { s.ticks = timeTicks.map(v => ({ value: v })); },
        afterFit: s => { s.height = 35; s.paddingLeft = 0; s.paddingRight = 0; },
        ticks: {
          color: axisText, padding: 9, maxRotation: 0, autoSkip: false,
          font: ctx => ({ family: FONT, size: 14, weight: ctx.tick && ctx.tick.value % 60 === 0 ? '700' : '400' }),
          callback: v => timeTickLabels[timeTicks.indexOf(v)]
        }
      },
      y: {
        position: 'right', min: 0, max: 6534,
        grid: { color: gridColor, drawTicks: false },
        border: { color: '#dfe1e6' },
        afterBuildTicks: s => { s.ticks = volumeTicks.map(v => ({ value: v })); },
        afterFit: s => { s.width = 82; s.paddingTop = 0; s.paddingBottom = 0; },
        ticks: {
          color: axisText, padding: 9, font: { family: FONT, size: 14 },
          callback: v => volumeTickLabels[volumeTicks.indexOf(v)]
        }
      }
    }
  },
  plugins: [volumeTag]
});
</script>
</body>
</html>
